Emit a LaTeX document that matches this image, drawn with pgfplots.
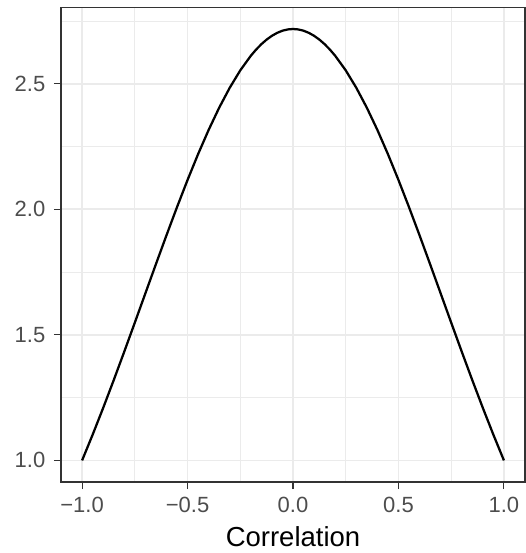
\documentclass[border=0pt]{standalone}
\usepackage{fontspec}
\setmainfont{Liberation Sans}
\usepackage{pgfplots}
\pgfplotsset{compat=1.18}
\definecolor{gridc}{HTML}{EBEBEB}
\definecolor{bordc}{HTML}{333333}
\definecolor{tickc}{HTML}{4D4D4D}
\begin{document}
\begin{tikzpicture}
\useasboundingbox (-24.4pt,-28.4pt) rectangle (186pt,192.8pt);
\begin{axis}[
 at={(0,0)}, anchor=south west,
 scale only axis, width=185.6pt, height=189.8pt,
 xmin=-1.1, xmax=1.1, ymin=0.914, ymax=2.804,
 xtick={-1,-0.5,0,0.5,1}, xticklabels={−1.0,−0.5,0.0,0.5,1.0},
 ytick={1,1.5,2,2.5}, yticklabels={1.0,1.5,2.0,2.5},
 minor xtick={-0.75,-0.25,0.25,0.75}, minor ytick={1.25,1.75,2.25,2.75},
 grid=both,
 major grid style={draw=gridc, line width=0.7pt},
 minor grid style={draw=gridc, line width=0.35pt},
 minor tick length=0pt,
 tick align=outside, tick pos=left,
 major tick length=2.9pt,
 xtick style={draw=bordc, line width=0.45pt},
 ytick style={draw=bordc, line width=0.45pt},
 axis line style={draw=bordc, line width=0.45pt},
 xticklabel style={font=\fontsize{8.8}{10}\selectfont, text=tickc, anchor=base, inner sep=0pt, yshift=-9.2pt},
 yticklabel style={font=\fontsize{8.8}{10}\selectfont, text=tickc, anchor=east, inner sep=0pt, xshift=-3.2pt},
 xlabel={Correlation},
 xlabel style={font=\fontsize{11}{13}\selectfont, at={(axis description cs:0.5,0)}, anchor=base, inner sep=0pt, yshift=-26pt},
]
\addplot[black, line width=0.9pt] coordinates {
(-1.00,1.0000) (-0.95,1.1024) (-0.90,1.2092) (-0.85,1.3198) (-0.80,1.4333)
(-0.75,1.5488) (-0.70,1.6653) (-0.65,1.7816) (-0.60,1.8965) (-0.55,2.0087)
(-0.50,2.1170) (-0.45,2.2200) (-0.40,2.3164) (-0.35,2.4049) (-0.30,2.4843)
(-0.25,2.5536) (-0.20,2.6117) (-0.175,2.6363) (-0.15,2.6578) (-0.125,2.6761)
(-0.10,2.6912) (-0.075,2.7030) (-0.05,2.7115) (-0.025,2.7166)
(0.00,2.7183)
(0.025,2.7166) (0.05,2.7115) (0.075,2.7030) (0.10,2.6912) (0.125,2.6761)
(0.15,2.6578) (0.175,2.6363) (0.20,2.6117) (0.25,2.5536)
(0.30,2.4843) (0.35,2.4049) (0.40,2.3164) (0.45,2.2200) (0.50,2.1170)
(0.55,2.0087) (0.60,1.8965) (0.65,1.7816) (0.70,1.6653) (0.75,1.5488)
(0.80,1.4333) (0.85,1.3198) (0.90,1.2092) (0.95,1.1024) (1.00,1.0000)
};
\end{axis}
\end{tikzpicture}
\end{document}
